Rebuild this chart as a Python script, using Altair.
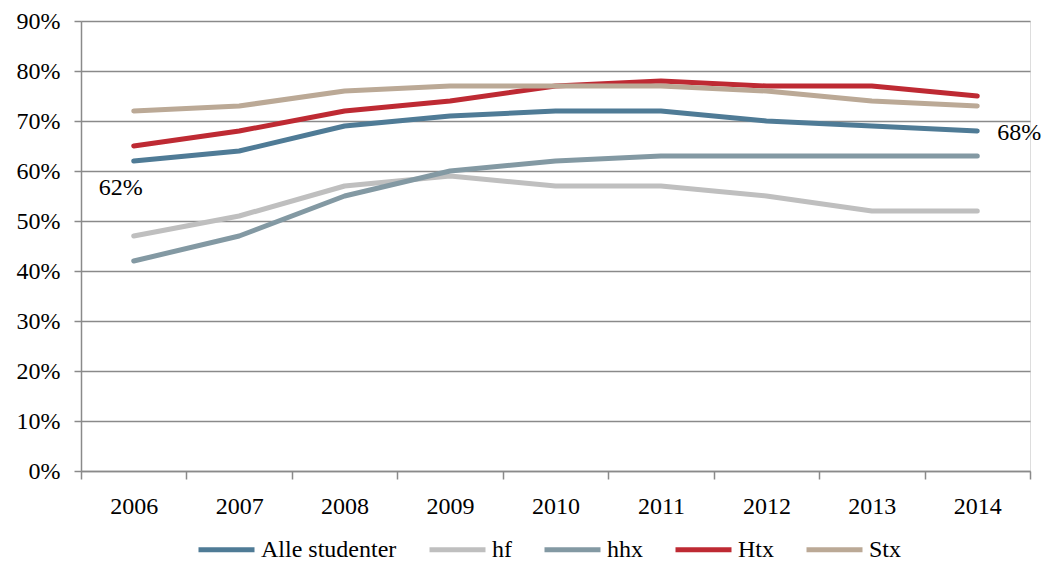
import altair as alt
import pandas as pd

years = ["2006", "2007", "2008", "2009", "2010", "2011", "2012", "2013", "2014"]
series_names = ["Alle studenter", "hf", "hhx", "Htx", "Stx"]
alle = [62, 64, 69, 71, 72, 72, 70, 69, 68]
hf = [47, 51, 57, 59, 57, 57, 55, 52, 52]
hhx = [42, 47, 55, 60, 62, 63, 63, 63, 63]
htx = [65, 68, 72, 74, 77, 78, 77, 77, 75]
stx = [72, 73, 76, 77, 77, 77, 76, 74, 73]
colors = ["#4F7B96", "#BFBFBF", "#8399A3", "#BE2A33", "#BBA996"]
y_ticks = [0, 0.1, 0.2, 0.3, 0.4, 0.5, 0.6, 0.7, 0.8, 0.9]

rows = []
for name, vals in zip(series_names, [alle, hf, hhx, htx, stx]):
    for i, (yr, v) in enumerate(zip(years, vals)):
        rows.append({"year": yr, "series": name, "value": v / 100, "order": i})
df = pd.DataFrame(rows)

FONT = "Liberation Serif"
FS = 24

x_enc = alt.X("year:N", sort=years,
              scale=alt.Scale(type="band", paddingInner=0, paddingOuter=0),
              axis=alt.Axis(title=None, labelAngle=0, tickBand="extent", grid=False,
                            domainColor="#8a8a8a", domainWidth=1.5, tickColor="#8a8a8a",
                            tickWidth=1.5, tickSize=8, labelPadding=15,
                            labelFont=FONT, labelFontSize=FS, labelColor="#000000"))
y_enc = alt.Y("value:Q", scale=alt.Scale(domain=[0, 0.9], nice=False),
              axis=alt.Axis(title=None, values=y_ticks, format=".0%",
                            gridColor="#8a8a8a", gridWidth=1.5,
                            domainColor="#8a8a8a", domainWidth=1.5,
                            tickColor="#8a8a8a", tickWidth=1.5, tickSize=7,
                            labelPadding=14, labelFont=FONT, labelFontSize=FS,
                            labelColor="#000000"))

lines = alt.Chart(df).mark_line(strokeWidth=5, strokeCap="round", strokeJoin="round").encode(
    x=x_enc,
    y=y_enc,
    color=alt.Color("series:N", sort=series_names,
                    scale=alt.Scale(domain=series_names, range=colors),
                    legend=alt.Legend(title=None, orient="none", direction="horizontal",
                                      legendX=115, legendY=498,
                                      symbolType="stroke", symbolStrokeWidth=5,
                                      symbolSize=3136, labelFont=FONT, labelFontSize=FS,
                                      labelColor="#000000", columnPadding=22,
                                      labelOffset=4)),
    order="order:Q",
    detail="series:N",
)

lbl_df = df[(df["series"] == "Alle studenter") & (df["year"].isin(["2006", "2014"]))].copy()
lbl_df["text"] = (lbl_df["value"] * 100).round().astype(int).astype(str) + "%"

lbl_first = alt.Chart(lbl_df[lbl_df["year"] == "2006"]).mark_text(
    font=FONT, fontSize=FS, dx=-13, dy=27, color="#000000").encode(
    x=alt.X("year:N", sort=years), y="value:Q", text="text:N")
lbl_last = alt.Chart(lbl_df[lbl_df["year"] == "2014"]).mark_text(
    font=FONT, fontSize=FS, dx=42, dy=2, color="#000000").encode(
    x=alt.X("year:N", sort=years), y="value:Q", text="text:N")

chart = alt.layer(lines, lbl_first, lbl_last).properties(
    width=949, height=450,
    autosize=alt.AutoSizeParams(type="none"),
    padding={"left": 73, "top": 13, "right": 13, "bottom": 91},
).configure_view(stroke=None).configure_legend(
    labelFont=FONT, labelFontSize=FS
).configure(background="white")

chart.save("out.html", embed_options={"renderer": "svg", "actions": False})
